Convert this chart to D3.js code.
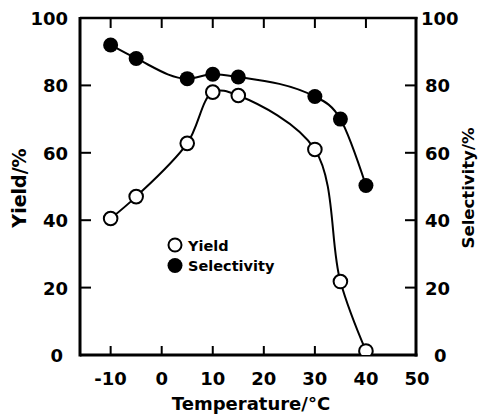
<!DOCTYPE html>
<html>
<head>
<meta charset="utf-8">
<script src="https://cdn.jsdelivr.net/npm/d3@7/dist/d3.min.js"></script>
<style>
  html, body { margin: 0; padding: 0; background: #fff; }
  svg text { font-family: "DejaVu Sans", sans-serif; font-weight: bold; fill: #000; }
</style>
</head>
<body>
<svg id="chart" width="481" height="415"></svg>
<script>
// ---- data ----
const temperature = [-10, -5, 5, 10, 15, 30, 35, 40];
const yieldValues = [40.5, 47, 62.8, 78, 77, 61, 21.8, 1.2];
const selectivityValues = [92, 88, 82, 83.3, 82.5, 76.7, 70, 50.3];
const xTicks = [-10, 0, 10, 20, 30, 40, 50];
const yTicks = [0, 20, 40, 60, 80, 100];
const xTitle = "Temperature/°C";
const yTitleLeft = "Yield/%";
const yTitleRight = "Selectivity/%";
const legendLabels = ["Yield", "Selectivity"];

(function () {
const svg = d3.select("#chart");
const pL = 80, pR = 416, pT = 18, pB = 355;

const x = d3.scaleLinear().domain([-16, 50]).range([pL, 417]);
const y = d3.scaleLinear().domain([0, 100]).range([pB, pT]);

svg.append("defs").append("clipPath").attr("id", "plotclip")
  .append("rect").attr("x", pL).attr("y", 0).attr("width", pR - pL).attr("height", pB - 0);

// frame lines
const frame = svg.append("g").attr("stroke", "#000").attr("fill", "none");
frame.append("line").attr("x1", pL).attr("x2", pL).attr("y1", pT - 1).attr("y2", pB + 1.5).attr("stroke-width", 3);
frame.append("line").attr("x1", pR).attr("x2", pR).attr("y1", pT - 1).attr("y2", pB + 1.5).attr("stroke-width", 3);
frame.append("line").attr("x1", pL).attr("x2", pR + 1.5).attr("y1", pB).attr("y2", pB).attr("stroke-width", 3);
frame.append("line").attr("x1", pL).attr("x2", pR + 1.5).attr("y1", pT).attr("y2", pT).attr("stroke-width", 2.5);

// tick marks (inward), drawn from the scales
const xInner = xTicks.filter(d => d < 50);
const yInner = yTicks.filter(d => d > 0);
const tickG = svg.append("g").attr("stroke", "#000").attr("stroke-width", 2.2);
xInner.forEach(d => {
  tickG.append("rect").attr("x", x(d) - 1).attr("y", pB - 9).attr("width", 2).attr("height", 9).attr("fill", "#000").attr("stroke", "none");
  tickG.append("rect").attr("x", x(d) - 1).attr("y", pT).attr("width", 2).attr("height", 10).attr("fill", "#000").attr("stroke", "none");
});
yInner.forEach(d => {
  tickG.append("rect").attr("x", pL).attr("y", y(d) - 1).attr("width", 11).attr("height", 2).attr("fill", "#000").attr("stroke", "none");
  if (d < 100) tickG.append("rect").attr("x", pR - 11).attr("y", y(d) - 1).attr("width", 11).attr("height", 2).attr("fill", "#000").attr("stroke", "none");
});

// tick labels
const fmt = d => String(d);
svg.append("g").selectAll("text").data(xTicks).join("text")
  .attr("x", d => x(d)).attr("y", 385).attr("text-anchor", "middle")
  .attr("font-size", 18).text(fmt);
svg.append("g").selectAll("text").data(yTicks).join("text")
  .attr("x", d => d === 0 ? 63 : 68).attr("y", d => y(d) + 7).attr("text-anchor", "end")
  .attr("font-size", 18).text(fmt);
svg.append("g").selectAll("text").data(yTicks).join("text")
  .attr("x", d => d === 0 ? 434 : (d === 100 ? 421 : 425)).attr("y", d => y(d) + 7).attr("text-anchor", "start")
  .attr("font-size", 18).text(fmt);

// axis titles
svg.append("text").attr("x", 251).attr("y", 410).attr("text-anchor", "middle")
  .attr("font-size", 18).text(xTitle);
svg.append("text").attr("transform", "translate(26,188) rotate(-90)").attr("text-anchor", "middle")
  .attr("font-size", 19).text(yTitleLeft);
svg.append("text").attr("transform", "translate(474,188) rotate(-90)").attr("text-anchor", "middle")
  .attr("font-size", 16.5).text(yTitleRight);

// curves
const plot = svg.append("g").attr("clip-path", "url(#plotclip)");
const yieldPts = temperature.map((t, i) => [t, yieldValues[i]]);
const selPts = temperature.map((t, i) => [t, selectivityValues[i]]);

const lineY = d3.line().x(d => x(d[0])).y(d => y(d[1])).curve(d3.curveCatmullRom.alpha(0.5));
const lineS = d3.line().x(d => x(d[0])).y(d => y(d[1])).curve(d3.curveMonotoneX);

plot.append("path").datum(yieldPts).attr("d", lineY).attr("fill", "none").attr("stroke", "#000").attr("stroke-width", 2);
plot.append("path").datum(selPts).attr("d", lineS).attr("fill", "none").attr("stroke", "#000").attr("stroke-width", 2);

plot.selectAll(".ypt").data(yieldPts).join("circle").attr("class", "ypt")
  .attr("cx", d => x(d[0])).attr("cy", d => y(d[1])).attr("r", 6.8)
  .attr("fill", "#fff").attr("stroke", "#000").attr("stroke-width", 2);
plot.selectAll(".spt").data(selPts).join("circle").attr("class", "spt")
  .attr("cx", d => x(d[0])).attr("cy", d => y(d[1])).attr("r", 7.5)
  .attr("fill", "#000");

// legend
const lg = svg.append("g");
lg.append("circle").attr("cx", 175).attr("cy", 245).attr("r", 6.5).attr("fill", "#fff").attr("stroke", "#000").attr("stroke-width", 2);
lg.append("circle").attr("cx", 175).attr("cy", 265.5).attr("r", 7.5).attr("fill", "#000");
lg.append("text").attr("x", 188).attr("y", 250.5).attr("font-size", 14.5).text(legendLabels[0]);
lg.append("text").attr("x", 188).attr("y", 271).attr("font-size", 14.5).text(legendLabels[1]);
})();
</script>
</body>
</html>
